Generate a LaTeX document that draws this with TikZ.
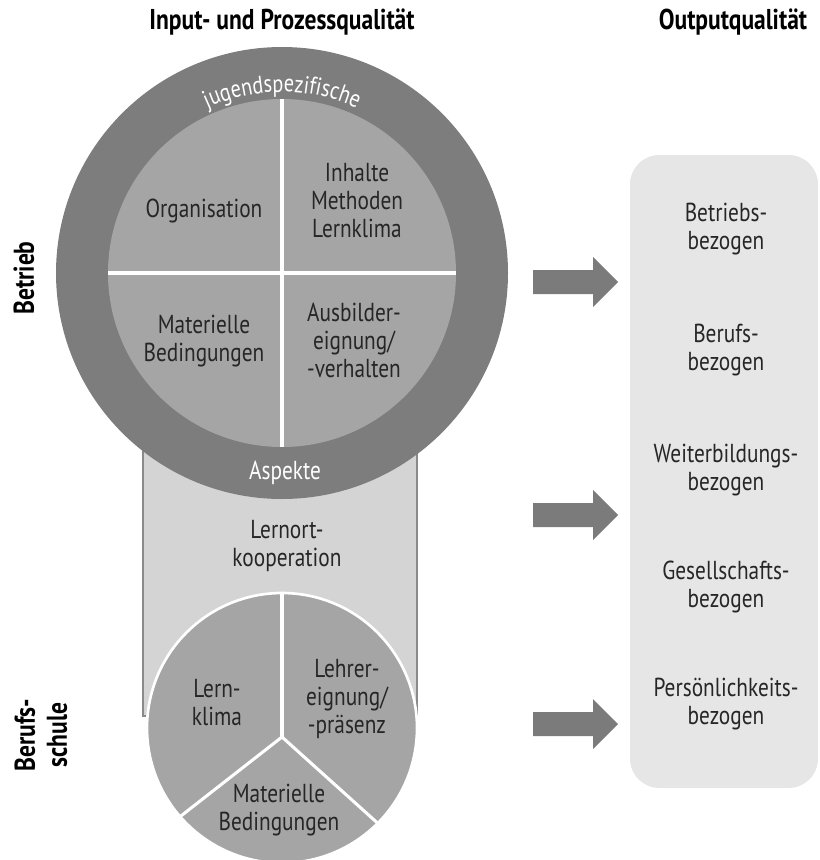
\documentclass[tikz,border=0pt]{standalone}
\usepackage{fontspec}
\setmainfont{PT Sans}[FakeStretch=0.82]
\usetikzlibrary{decorations.text}

\definecolor{ringgray}{HTML}{7D7D7D}
\definecolor{fieldgray}{HTML}{A5A5A5}
\definecolor{bandgray}{HTML}{D4D4D4}
\definecolor{bandline}{HTML}{8A8A8A}
\definecolor{boxgray}{HTML}{E6E6E6}
\definecolor{arrowgray}{HTML}{7B7B7B}
\definecolor{txtgray}{HTML}{262626}

\newcommand{\lblfont}{\fontsize{19.5}{21}\selectfont}
\newcommand{\arcfont}{\fontsize{18.5}{21}\selectfont}
\newcommand{\headfont}{\fontsize{21.5}{24}\selectfont\bfseries}

\tikzset{
  lbl/.style={align=center, inner sep=0pt, text=txtgray, font=\lblfont},
  ringlbl/.style={inner sep=0pt, text=white, font=\lblfont},
  head/.style={align=center, inner sep=0pt, text=black, font=\headfont},
  divider/.style={white, line width=2.3pt},
}

\begin{document}
\begin{tikzpicture}[x=0.75pt, y=-0.75pt]
			\useasboundingbox (0,0) rectangle (819,860);
			% Headings:
			\node[head] (inhead) at (282,22) {Input- und Prozessqualität};
			\node[head] (outhead) at (733,22) {Outputqualität};
			\node[head, rotate=90] (betrieb) at (24,278) {Betrieb};
			\node[head, rotate=90] (schule) at (41,735) {Berufs-\\schule};
			% Band between the two circles:
			\filldraw[fill=bandgray, draw=bandline, line width=1.2pt] (143,420) rectangle (417,716);
			% Ring and its four fields:
			\fill[ringgray] (282,273) circle[radius=226];
			\fill[fieldgray] (282,273) circle[radius=174];
			\draw[divider] (108,273) -- (456,273);
			\draw[divider] (282,99) -- (282,447);
			\path[decorate, decoration={text along path, text align=center, text color=white,
				text={|\arcfont|jugendspezifische}}] (111.9,211.1) arc[start angle=200, end angle=340, radius=181];
			\node[ringlbl] (aspekte) at (285,473) {Aspekte};
			\node[lbl] (orga) at (204,211) {Organisation};
			\node[lbl] (inhalte) at (357,201) {Inhalte\\Methoden\\Lernklima};
			\node[lbl] (material) at (204,341) {Materielle\\Bedingungen};
			\node[lbl] (ausbilder) at (354,340) {Ausbilder-\\eignung/\\-verhalten};
			\node[lbl] (lernort) at (287,546) {Lernort-\\kooperation};
			% Lower circle with three fields:
			\coordinate (hub) at (282,737);
			\begin{scope}
				\clip (282,728) circle[radius=135];
				\fill[fieldgray] (282,728) circle[radius=135];
				\draw[divider] (hub) -- ++(-90:200);
				\draw[divider] (hub) -- ++(142:200);
				\draw[divider] (hub) -- ++(42:200);
			\end{scope}
			\draw[white, line width=2pt] (282,728) circle[radius=135];
			\node[lbl] (lernklima) at (217,703) {Lern-\\klima};
			\node[lbl] (lehrer) at (347,699) {Lehrer-\\eignung/\\-präsenz};
			\node[lbl] (schulmat) at (279,810) {Materielle\\Bedingungen};
			% Arrows:
			\foreach \ay in {282,515,724}
				\fill[arrowgray] (533,\ay-12) -- (593,\ay-12) -- (593,\ay-25) -- (618,\ay)
					-- (593,\ay+25) -- (593,\ay+12) -- (533,\ay+12) -- cycle;
			% Output box:
			\fill[boxgray, rounded corners=22pt] (630,155) rectangle (818,788);
			\node[lbl] (betriebs) at (726,229) {Betriebs-\\bezogen};
			\node[lbl] (berufs) at (726,350) {Berufs-\\bezogen};
			\node[lbl] (weiter) at (726,470) {Weiterbildungs-\\bezogen};
			\node[lbl] (gesell) at (726,587) {Gesellschafts-\\bezogen};
			\node[lbl] (person) at (726,704) {Persönlichkeits-\\bezogen};
		\end{tikzpicture}
\end{document}
